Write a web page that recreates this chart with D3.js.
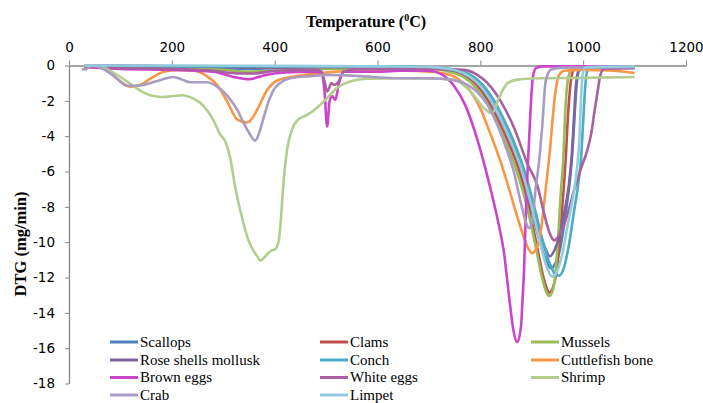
<!DOCTYPE html>
<html>
<head>
<meta charset="utf-8">
<script src="https://cdn.jsdelivr.net/npm/d3@7"></script>
<style>
  body { margin: 0; background: #fff; }
  .tick text { font-family: "DejaVu Sans", sans-serif; font-size: 13.5px; fill: #000; }
  .axis path, .axis line { stroke: #868686; }
</style>
</head>
<body>
<div id="my_dataviz"></div>
<script>
// Series names (legend order)
const seriesNames = ["Scallops", "Clams", "Mussels", "Rose shells mollusk", "Conch",
  "Cuttlefish bone", "Brown eggs", "White eggs", "Shrimp", "Crab", "Limpet"];

// x tick labels / y tick labels
const xTicks = [0, 200, 400, 600, 800, 1000, 1200];
const yTicks = [0, -2, -4, -6, -8, -10, -12, -14, -16, -18];

// [temperature, DTG]
const scallops = [[30,0],[200,-0.05],[300,-0.15],[350,-0.2],[400,-0.15],[500,-0.1],[600,-0.1],[700,-0.15],[750,-0.3],[780,-0.7],[800,-1.2],[820,-2.0],[840,-3.1],[860,-4.4],[878,-5.9],[897,-7.9],[914,-9.8],[926,-10.9],[937,-11.48],[946,-11.2],[955,-10.4],[963,-9.0],[970,-7.5],[976,-6.0],[980,-4.5],[984,-2.5],[988,-0.9],[993,-0.25],[1010,-0.12],[1100,-0.12]];
const clams = [[30,0],[200,-0.05],[400,-0.1],[600,-0.1],[700,-0.15],[745,-0.3],[775,-0.7],[795,-1.2],[815,-2.0],[835,-3.1],[855,-4.4],[875,-5.9],[893,-7.9],[910,-10.2],[922,-11.9],[929,-12.6],[934,-12.86],[942,-12.5],[950,-11.3],[956,-9.3],[962,-7.0],[966,-5.3],[971,-2.6],[976,-0.9],[982,-0.25],[1000,-0.1],[1100,-0.1]];
const mussels = [[30,0],[100,-0.05],[200,-0.1],[300,-0.25],[350,-0.35],[400,-0.3],[500,-0.2],[600,-0.15],[700,-0.2],[740,-0.35],[770,-0.7],[790,-1.2],[810,-2.0],[830,-3.1],[850,-4.4],[870,-5.9],[890,-7.9],[908,-10.3],[920,-12.0],[928,-12.8],[934,-13.05],[940,-12.8],[944,-12.3],[950,-10.3],[957,-7.0],[961,-5.5],[966,-2.2],[971,-0.7],[978,-0.2],[1000,-0.1],[1100,-0.1]];
const roseShells = [[30,0],[200,-0.05],[400,-0.1],[600,-0.1],[700,-0.15],[750,-0.3],[780,-0.65],[800,-1.1],[820,-1.9],[840,-3.0],[860,-4.2],[880,-5.8],[898,-7.6],[915,-9.4],[927,-10.4],[935,-10.8],[945,-10.4],[955,-9.5],[964,-8.2],[972,-6.8],[978,-5.0],[982,-3.0],[986,-1.1],[991,-0.3],[1010,-0.12],[1100,-0.12]];
const conch = [[30,0],[200,-0.05],[400,-0.05],[600,-0.05],[700,-0.1],[755,-0.25],[785,-0.6],[805,-1.1],[825,-1.9],[845,-3.0],[865,-4.3],[885,-5.9],[905,-8.0],[922,-10.0],[935,-11.2],[945,-11.8],[953,-11.9],[962,-11.5],[972,-10.2],[982,-8.3],[990,-6.8],[996,-5.2],[1000,-3.2],[1004,-1.2],[1008,-0.3],[1020,-0.12],[1100,-0.12]];
const cuttlefish = [[30,0],[50,0],[80,-0.43],[100,-0.9],[119,-1.2],[138,-1.1],[158,-0.75],[184,-0.35],[210,-0.25],[242,-0.3],[268,-0.6],[288,-1.1],[307,-2.0],[327,-3.05],[346,-3.23],[356,-3.0],[366,-2.5],[385,-1.4],[405,-0.85],[437,-0.62],[489,-0.43],[567,-0.3],[650,-0.3],[700,-0.35],[730,-0.45],[755,-0.72],[781,-1.47],[801,-2.5],[820,-3.9],[840,-5.5],[856,-7.0],[866,-8.0],[882,-9.5],[894,-10.4],[901,-10.63],[908,-10.4],[914,-9.9],[918,-9.3],[924,-7.8],[931,-6.0],[936,-4.6],[940,-3.2],[947,-1.3],[953,-0.55],[963,-0.3],[1000,-0.25],[1050,-0.28],[1100,-0.42]];
const brownEggs = [[30,-0.1],[100,-0.2],[200,-0.25],[280,-0.35],[320,-0.65],[350,-0.78],[380,-0.55],[420,-0.4],[470,-0.35],[490,-0.4],[497,-1.5],[502,-3.45],[507,-2.0],[512,-1.75],[518,-1.95],[525,-1.0],[535,-0.35],[600,-0.35],[650,-0.3],[700,-0.3],[725,-0.5],[750,-1.2],[770,-2.2],[790,-3.8],[805,-5.3],[820,-7.0],[835,-8.9],[846,-10.6],[856,-13.1],[865,-15.1],[872,-15.65],[879,-14.8],[882,-13.3],[885,-11.6],[888,-8.8],[892,-5.9],[896,-3.5],[899,-1.8],[902,-0.7],[908,-0.15],[920,-0.05],[1100,-0.05]];
const whiteEggs = [[30,-0.05],[100,-0.15],[200,-0.2],[280,-0.3],[330,-0.45],[360,-0.45],[400,-0.3],[480,-0.25],[491,-0.35],[497,-0.9],[502,-1.47],[507,-1.2],[510,-1.0],[516,-1.1],[524,-0.92],[534,-0.35],[560,-0.2],[650,-0.2],[720,-0.2],[768,-0.25],[794,-0.53],[814,-1.0],[840,-2.04],[866,-3.55],[892,-5.6],[911,-6.8],[925,-8.5],[935,-9.5],[944,-9.9],[955,-9.5],[966,-8.75],[982,-7.1],[996,-5.8],[1008,-4.8],[1016,-3.8],[1022,-2.6],[1028,-1.5],[1033,-0.6],[1040,-0.2],[1100,-0.15]];
const shrimp = [[30,0],[60,-0.05],[80,-0.3],[100,-0.65],[120,-1.05],[140,-1.45],[160,-1.7],[180,-1.78],[200,-1.74],[220,-1.68],[240,-1.85],[262,-2.3],[281,-3.1],[294,-3.9],[304,-4.3],[314,-5.3],[323,-6.85],[336,-8.55],[349,-9.9],[366,-10.8],[372,-11.05],[382,-10.8],[392,-10.5],[401,-10.4],[408,-9.9],[411,-9.1],[417,-6.7],[424,-4.8],[434,-3.6],[444,-3.1],[463,-2.8],[482,-2.4],[502,-1.85],[521,-1.28],[547,-0.9],[580,-0.75],[650,-0.72],[720,-0.75],[749,-0.8],[781,-1.47],[807,-2.41],[823,-2.7],[836,-1.85],[853,-1.0],[872,-0.8],[918,-0.72],[1000,-0.7],[1100,-0.65]];
const crab = [[25,-0.2],[32,-0.22],[38,-0.1],[45,0],[67,-0.2],[93,-0.72],[112,-1.15],[132,-1.15],[158,-1.0],[180,-0.8],[203,-0.65],[220,-0.8],[236,-0.95],[268,-0.95],[288,-1.2],[314,-1.94],[327,-2.5],[340,-3.27],[352,-3.9],[362,-4.25],[370,-3.8],[379,-2.9],[390,-1.9],[398,-1.38],[410,-1.0],[430,-0.72],[470,-0.6],[502,-0.53],[567,-0.6],[632,-0.72],[700,-0.72],[740,-0.8],[760,-0.9],[775,-1.1],[794,-1.5],[814,-2.23],[833,-3.36],[853,-4.9],[865,-6.0],[879,-7.8],[889,-8.9],[895,-9.21],[901,-8.74],[908,-6.85],[914,-5.5],[921,-3.2],[927,-0.9],[937,-0.24],[960,-0.12],[1100,-0.1]];
const limpet = [[30,0],[200,0],[400,-0.02],[600,-0.05],[700,-0.08],[750,-0.25],[780,-0.65],[800,-1.15],[820,-1.95],[840,-3.05],[860,-4.35],[880,-5.9],[900,-8.0],[916,-10.0],[928,-11.3],[940,-11.95],[950,-11.6],[960,-10.6],[970,-9.0],[980,-7.5],[988,-5.8],[993,-4.0],[996,-1.8],[999,-0.5],[1005,-0.1],[1100,-0.05]];

const seriesValues = [scallops, clams, mussels, roseShells, conch, cuttlefish,
  brownEggs, whiteEggs, shrimp, crab, limpet];
const seriesColors = ["#4F81BD", "#C0504D", "#9BBB59", "#8064A2", "#4BACC6", "#F79646",
  "#CC44CC", "#A8609E", "#B3CD8E", "#A99CC4", "#93CDDD"];

// dimensions
const W = 703, H = 403;
const svg = d3.select("#my_dataviz")
  .append("svg")
    .attr("width", W)
    .attr("height", H);

const x = d3.scaleLinear().domain([0, 1200]).range([69, 686]);
const y = d3.scaleLinear().domain([0, -18]).range([65.5, 383.5]);

// top x axis
svg.append("g")
  .attr("class", "axis")
  .attr("transform", `translate(0, ${y(0)})`)
  .call(d3.axisTop(x).tickValues(xTicks).tickFormat(d => String(d)).tickSize(5).tickPadding(9).tickSizeOuter(0))
  .call(g => g.select(".domain").attr("stroke-width", 1.3));

// left y axis
svg.append("g")
  .attr("class", "axis")
  .attr("transform", `translate(${x(0)}, 0)`)
  .call(d3.axisLeft(y).tickValues(yTicks).tickFormat(d => String(d)).tickSize(4).tickPadding(10).tickSizeOuter(0))
  .call(g => g.select(".domain").attr("stroke-width", 1.3));

// lines
const line = d3.line()
  .curve(d3.curveMonotoneX)
  .x(d => x(d[0]))
  .y(d => y(d[1]));

svg.append("g")
  .selectAll("path")
  .data(seriesValues)
  .join("path")
    .attr("fill", "none")
    .attr("stroke", (d, i) => seriesColors[i])
    .attr("stroke-width", 2.6)
    .attr("stroke-linejoin", "round")
    .attr("d", line);

// axis titles
const title = svg.append("text")
  .attr("x", 366)
  .attr("y", 27)
  .attr("text-anchor", "middle")
  .style("font-family", "'Liberation Serif', 'Times New Roman', serif")
  .style("font-weight", "bold")
  .style("font-size", "16px");
title.append("tspan").text("Temperature (");
title.append("tspan").attr("dy", -6).style("font-size", "10px").text("0");
title.append("tspan").attr("dy", 6).text("C)");

svg.append("text")
  .attr("transform", "translate(26, 244) rotate(-90)")
  .attr("text-anchor", "middle")
  .style("font-family", "'Liberation Serif', 'Times New Roman', serif")
  .style("font-weight", "bold")
  .style("font-size", "16.5px")
  .text("DTG (mg/min)");

// legend
const legendCols = [110, 320, 531];
const legendRows = [342, 360, 377.5, 395];
const legend = svg.append("g")
  .selectAll("g")
  .data(seriesNames)
  .join("g")
    .attr("transform", (d, i) => `translate(${legendCols[i % 3]}, ${legendRows[Math.floor(i / 3)]})`);
legend.append("line")
  .attr("x1", 0).attr("x2", 28)
  .attr("stroke", (d, i) => seriesColors[i])
  .attr("stroke-width", 3);
legend.append("text")
  .attr("x", 30)
  .attr("y", 4.5)
  .style("font-family", "'Liberation Serif', 'Times New Roman', serif")
  .style("font-size", "15px")
  .text(d => d);
</script>
</body>
</html>
